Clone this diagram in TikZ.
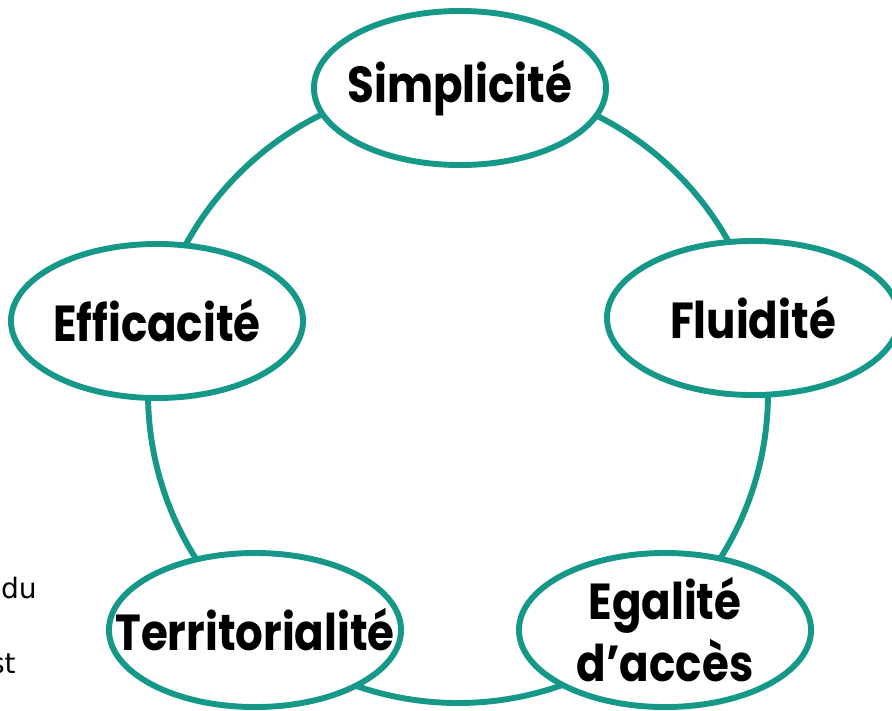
\documentclass[tikz,border=0pt]{standalone}
\usepackage{fontspec}
\setsansfont{Poppins}[FakeStretch=0.86]
\newfontfamily\notefont{DejaVu Sans}
\usetikzlibrary{shapes.geometric}
\definecolor{ringteal}{RGB}{22,152,136}
\begin{document}
\begin{tikzpicture}[x=0.025cm,y=-0.025cm]
        \tikzstyle{pillar}=[ellipse, draw=ringteal, line width=4.2pt, fill=white,
          minimum width=7.3cm, minimum height=3.85cm, inner sep=0pt]
        \tikzstyle{word}=[align=center, inner sep=0pt,
          font=\sffamily\bfseries\fontsize{36}{44}\selectfont]
        \tikzstyle{ring}=[draw=ringteal, line width=4.2pt]
        \tikzstyle{note}=[anchor=base east, inner sep=0pt, font=\notefont\fontsize{20}{24}\selectfont]
        \useasboundingbox (0,0) rectangle (892,710);
        \clip (0,0) rectangle (892,710);
        % ring behind the ellipses
        \coordinate (c) at (458,393);
        \path[ring] (c) circle[radius=310];
        \node [pillar, label={[word]center:Simplicité}] (s) at (460,88) {};
        \node [pillar, label={[word]center:Fluidité}] (f) at (753,318) {};
        \node [pillar, label={[word]center:Efficacité}] (e) at (157,321) {};
        \node [pillar, label={[word]center:Territorialité}] (t) at (255,630) {};
        \node [pillar, label={[word]center:Egalité\\d’accès}] (g) at (665,630) {};
        % cut text on the left
        \node [note] (n1) at (37,598) {du};
        \node [note] (n2) at (16,673) {st};
      \end{tikzpicture}
\end{document}
